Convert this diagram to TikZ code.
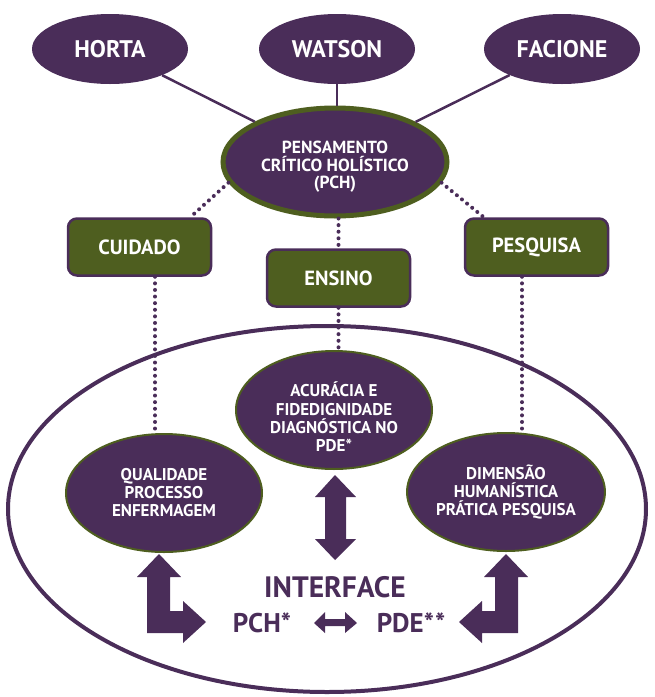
\documentclass[tikz,border=0pt]{standalone}
\usepackage{fontspec}
\setmainfont{PT Sans}
\usetikzlibrary{shapes.geometric}
\definecolor{purp}{HTML}{4A2D59}
\definecolor{grn}{HTML}{4E5E1F}
\begin{document}
\begin{tikzpicture}[x=1pt,y=-1pt,
  author/.style={ellipse, fill=purp, inner sep=0pt, minimum width=156pt, minimum height=70pt,
    text=white, font=\fontsize{24}{24}\selectfont\bfseries},
  pchell/.style={ellipse, fill=purp, draw=grn, line width=5pt, inner sep=0pt,
    minimum width=224pt, minimum height=108pt},
  inell/.style={ellipse, fill=purp, draw=grn, line width=2pt, inner sep=0pt,
    minimum width=196pt, minimum height=118pt, text=white, align=center,
    font=\fontsize{17}{18}\selectfont\bfseries},
  ptext/.style={text=white, align=center},
  boxn/.style={rectangle, rounded corners=9pt, fill=grn, draw=purp, line width=2.5pt,
    minimum width=143pt, minimum height=57pt, inner sep=0pt, text=white,
    font=\fontsize{20.5}{20.5}\selectfont\bfseries},
  solidl/.style={draw=purp, line width=2.5pt},
  dotl/.style={draw=purp, line width=4pt, dash pattern=on 0pt off 6.6pt, line cap=round},
  blockarrow/.style={fill=purp, draw=none},
  bigtext/.style={text=purp, inner sep=0pt},
]
\useasboundingbox (0,0) rectangle (655,697);

% outer ellipse
\node[ellipse, draw=purp, line width=4pt, minimum width=638pt, minimum height=366pt, inner sep=0pt] (big) at (327,509) {};

% authors
\node[author] (horta) at (110,49) {HORTA};
\node[author] (watson) at (337,49) {WATSON};
\node[author] (facione) at (562,49) {FACIONE};

% central ellipse
\node[pchell, label={[ptext, yshift=-5pt, font=\fontsize{17.5}{17.5}\selectfont\bfseries]center:PENSAMENTO\\CRÍTICO HOLÍSTICO\\(PCH)}] (pch) at (335,162) {};

\draw[solidl] (horta) -- (pch);
\draw[solidl] (watson.south) -- (watson.south |- pch.north);
\draw[solidl] (facione) -- (pch);

% boxes
\node[boxn] (cuidado) at (139.5,247) {CUIDADO};
\node[boxn] (ensino) at (338.5,278) {ENSINO};
\node[boxn] (pesquisa) at (536.5,247) {PESQUISA};

% inner ellipses
\node[inell, label={[ptext, yshift=-7pt, font=\fontsize{17}{18.3}\selectfont\bfseries]center:ACURÁCIA E\\FIDEDIGNIDADE\\DIAGNÓSTICA NO\\PDE*}] (acur) at (334,410) {};
\node[inell] (qual) at (164,493) {QUALIDADE\\PROCESSO\\ENFERMAGEM};
\node[inell] (dim) at (506,492) {DIMENSÃO\\HUMANÍSTICA\\PRÁTICA PESQUISA};

% dotted connectors
\draw[dotl] (pch.191) -- ([xshift=-22pt]cuidado.north east);
\draw[dotl] (pch.349) -- ([xshift=20pt]pesquisa.north west);
\draw[dotl] (pch.south -| ensino.north) -- (ensino.north);
\draw[dotl] (ensino.south) -- (ensino.south |- acur.north);
\coordinate (cx) at (155,0);
\coordinate (px) at (522,0);
\draw[dotl] (cuidado.south -| cx) -- ([yshift=1pt]qual.north -| cx);
\draw[dotl] (pesquisa.south -| px) -- ([yshift=1pt]dim.north -| px);

% texts
\node[bigtext, font=\fontsize{29.5}{29.5}\selectfont\bfseries] (interface) at (335,587) {INTERFACE};
\node[bigtext, font=\fontsize{27}{27}\selectfont\bfseries] (pchs) at (262,623) {PCH*};
\node[bigtext, font=\fontsize{27}{27}\selectfont\bfseries] (pdes) at (411,623) {PDE*\kern1pt*};

% vertical double arrow
\fill[blockarrow] (335,475) -- (356,497) -- (346,497) -- (346,539) -- (356,539) -- (335,560)
  -- (315,539) -- (325,539) -- (325,497) -- (315,497) -- cycle;

% left L arrow
\fill[blockarrow] (159,554) -- (181,577) -- (170,577) -- (170,611) -- (183,611) -- (183,601)
  -- (206,622) -- (183,643) -- (183,633) -- (147,633) -- (147,577) -- (137,577) -- cycle;

% right L arrow (mirror)
\fill[blockarrow] (506,554) -- (484,577) -- (495,577) -- (495,611) -- (482,611) -- (482,601)
  -- (459,622) -- (482,643) -- (482,633) -- (518,633) -- (518,577) -- (528,577) -- cycle;

% small horizontal double arrow
\fill[blockarrow] (314,623) -- (325,612) -- (325,619) -- (345,619) -- (345,612) -- (357,623)
  -- (345,633) -- (345,626) -- (325,626) -- (325,633) -- cycle;
\end{tikzpicture}
\end{document}
